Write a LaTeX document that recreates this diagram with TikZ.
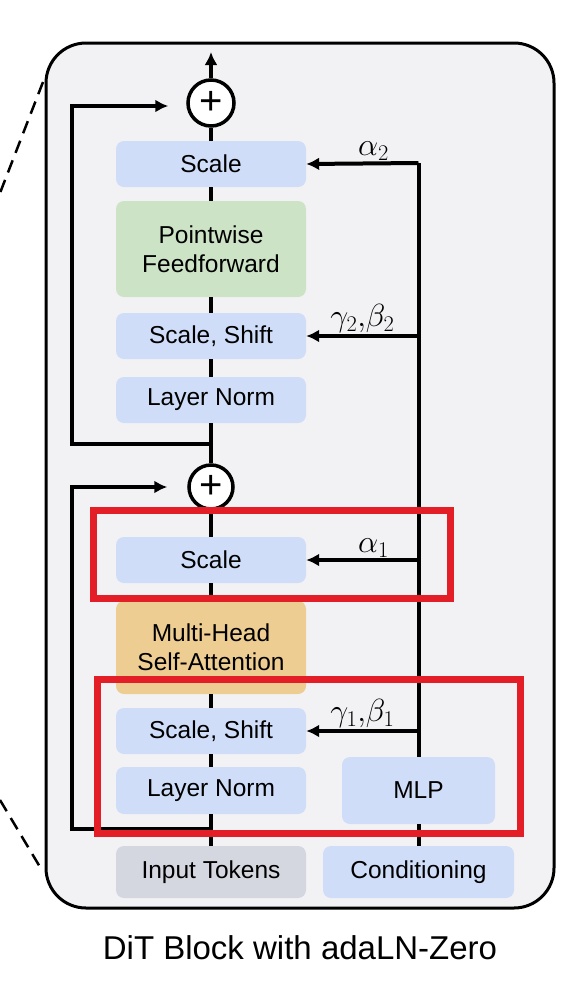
\RequirePackage{fix-cm}
\documentclass[tikz,border=0pt]{standalone}
\usepackage{fontspec}
\setmainfont{Liberation Sans}
\usepackage{tikz}
\usetikzlibrary{arrows.meta,calc}

\definecolor{blockbg}{HTML}{F2F2F4}
\definecolor{boxblue}{HTML}{CFDDF8}
\definecolor{boxgreen}{HTML}{CCE3C6}
\definecolor{boxorange}{HTML}{EDCD92}
\definecolor{boxgray}{HTML}{D5D7E0}
\definecolor{markred}{HTML}{E41E26}

\begin{document}
\begin{tikzpicture}[x=1pt, y=-1pt,
  box/.style={rounded corners=8pt, minimum width=190pt, minimum height=46pt, inner sep=0pt,
    align=center, font=\fontsize{24.5}{29}\selectfont},
  wire/.style={line width=4pt},
  arr/.style={line width=4pt, -{Latex[length=13pt,width=13pt]}},
  addop/.style={circle, draw, line width=3.5pt, fill=white, minimum size=44pt, inner sep=0pt,
    font=\fontsize{40}{40}\selectfont},
  coef/.style={font=\fontsize{32}{34}\selectfont, inner sep=1pt},
  redbox/.style={draw=markred, line width=7pt}]
  \useasboundingbox (0,0) rectangle (570,983);

  % Zoom lines and block outline
  \draw[line width=2.5pt, dash pattern=on 13pt off 8pt] (43,82) -- (0,193);
  \draw[line width=2.5pt, dash pattern=on 13pt off 8pt] (0,800) -- (40,867);
  \draw[line width=3pt, fill=blockbg, rounded corners=40pt] (46,43) rectangle (554,908);

  % Left column
  \node[box, fill=boxgray, minimum height=52pt] (tokens) at (211,872) {Input Tokens};
  \node[box, fill=boxblue, minimum height=47pt] (ln1) at (211,790.5) {Layer Norm};
  \node[box, fill=boxblue] (ss1) at (211,731) {Scale, Shift};
  \node[box, fill=boxorange, minimum height=93pt] (attn) at (211,647.5) {Multi-Head\\Self-Attention};
  \node[box, fill=boxblue] (scale1) at (211,560) {Scale};
  \node[addop] (add1) at (211,487) {+};
  \node[box, fill=boxblue] (ln2) at (211,400) {Layer Norm};
  \node[box, fill=boxblue] (ss2) at (211,336) {Scale, Shift};
  \node[box, fill=boxgreen, minimum height=96pt] (ff) at (211,249) {Pointwise\\Feedforward};
  \node[box, fill=boxblue] (scale2) at (211,164) {Scale};
  \node[addop, minimum size=46pt] (add2) at (211,103) {+};
  \coordinate (out) at (211,52);

  % Right column
  \node[box, fill=boxblue, minimum width=191pt, minimum height=52pt] (cond) at (418.5,872) {Conditioning};
  \node[box, fill=boxblue, minimum width=153pt, minimum height=67pt] (mlp) at (418.5,790.5) {MLP};
  \coordinate (ctop) at (418.5,163);

  % Main path
  \draw[wire] (tokens) -- (ln1);
  \draw[wire] (ln1) -- (ss1);
  \draw[wire] (ss1) -- (attn);
  \draw[wire] (attn) -- (scale1);
  \draw[wire] (scale1) -- (add1);
  \draw[wire] (add1) -- (ln2);
  \draw[wire] (ln2) -- (ss2);
  \draw[wire] (ss2) -- (ff);
  \draw[wire] (ff) -- (scale2);
  \draw[wire] (scale2) -- (add2);
  \draw[arr] (add2) -- (out);

  % Residual connections
  \coordinate (res1) at (211,829);
  \coordinate (res2) at (211,444);
  \draw[arr] (res1) -- (72,829) |- ([xshift=-20pt]add1.west);
  \draw[arr] (res2) -- (72,444) |- ([xshift=-18pt, yshift=-3pt]add2.west);

  % Conditioning
  \draw[wire] (cond) -- (mlp);
  \draw[wire] (mlp.north) -- (ctop);
  \draw[arr] (ctop) -- (scale2.east) node[coef, pos=0.4, above] {$\alpha_2$};
  \draw[arr] (mlp.north |- ss2.east) -- (ss2.east) node[coef, midway, above] {$\gamma_2{,}\beta_2$};
  \draw[arr] (mlp.north |- scale1.east) -- (scale1.east) node[coef, pos=0.4, above] {$\alpha_1$};
  \draw[arr] (mlp.north |- ss1.east) -- (ss1.east) node[coef, midway, above] {$\gamma_1{,}\beta_1$};

  % Highlights
  \draw[redbox] (93,510) rectangle (450,598);
  \draw[redbox] (97,679) rectangle (520,833);

  % Caption
  \node[font=\fontsize{33}{36}\selectfont] (caption) at (300,948) {DiT Block with adaLN-Zero};
\end{tikzpicture}
\end{document}
